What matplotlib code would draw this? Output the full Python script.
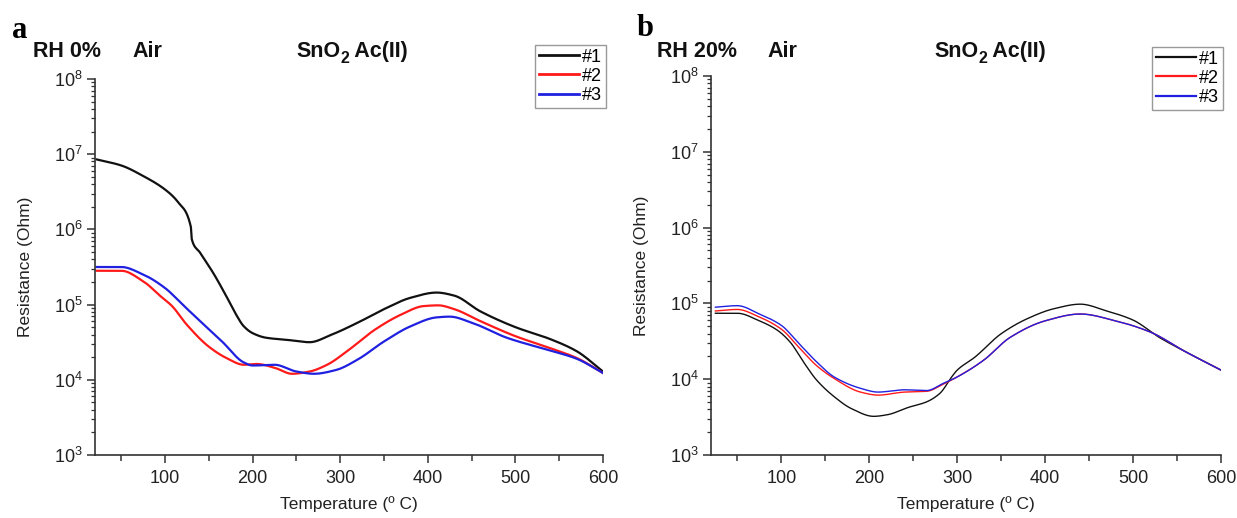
import numpy as np
import matplotlib
matplotlib.use("Agg")
import matplotlib.pyplot as plt
from matplotlib.ticker import LogLocator, MultipleLocator, NullFormatter

plt.rcParams['font.family'] = ['Liberation Sans', 'DejaVu Sans']
plt.rcParams['mathtext.fontset'] = 'custom'
plt.rcParams['mathtext.rm'] = 'Liberation Sans'
plt.rcParams['mathtext.it'] = 'Liberation Sans:italic'
plt.rcParams['mathtext.bf'] = 'Liberation Sans:bold'

# ---- Panel a (RH 0%) : temperature, log10(resistance)
a1_T = [22, 50, 75, 100, 115, 129.5, 130.5, 140, 155, 170, 180, 190, 200, 215, 240, 265, 290, 320, 350, 380, 410, 430, 460, 500, 540, 570, 600]
a1_logR = [6.93, 6.85, 6.71, 6.53, 6.36, 6.03, 5.87, 5.69, 5.42, 5.11, 4.89, 4.71, 4.62, 4.56, 4.53, 4.50, 4.60, 4.76, 4.94, 5.09, 5.16, 5.12, 4.91, 4.70, 4.54, 4.38, 4.11]
a2_T = [22, 50, 75, 95, 108, 125, 150, 170, 190, 205, 225, 245, 265, 285, 310, 340, 370, 395, 412, 430, 460, 500, 540, 570, 600]
a2_logR = [5.45, 5.45, 5.31, 5.11, 4.98, 4.73, 4.44, 4.29, 4.20, 4.21, 4.16, 4.08, 4.11, 4.20, 4.40, 4.67, 4.87, 4.98, 4.99, 4.94, 4.78, 4.58, 4.42, 4.29, 4.09]
a3_T = [22, 50, 75, 100, 120, 140, 165, 190, 200, 225, 250, 270, 295, 320, 350, 380, 410, 425, 450, 490, 530, 570, 600]
a3_logR = [5.50, 5.50, 5.40, 5.22, 5.00, 4.78, 4.51, 4.23, 4.19, 4.20, 4.11, 4.08, 4.13, 4.27, 4.51, 4.71, 4.83, 4.84, 4.76, 4.56, 4.42, 4.28, 4.09]

# ---- Panel b (RH 20%)
b1_T = [25, 50, 75, 95, 110, 125, 140, 160, 180, 205, 220, 245, 265, 280, 295, 300, 320, 350, 380, 410, 440, 470, 500, 530, 560, 600]
b1_logR = [4.87, 4.87, 4.77, 4.65, 4.49, 4.23, 3.99, 3.77, 3.61, 3.51, 3.53, 3.63, 3.70, 3.81, 4.05, 4.12, 4.29, 4.60, 4.80, 4.93, 4.99, 4.90, 4.78, 4.55, 4.36, 4.12]
b2_T = [25, 50, 75, 100, 120, 140, 160, 190, 210, 240, 265, 285, 300, 330, 360, 400, 440, 480, 520, 560, 600]
b2_logR = [4.90, 4.92, 4.82, 4.66, 4.42, 4.18, 4.01, 3.83, 3.79, 3.83, 3.84, 3.94, 4.03, 4.25, 4.55, 4.77, 4.86, 4.77, 4.62, 4.36, 4.12]
b3_T = [25, 50, 75, 100, 120, 140, 160, 190, 210, 240, 265, 285, 300, 330, 360, 400, 440, 480, 520, 560, 600]
b3_logR = [4.95, 4.97, 4.86, 4.71, 4.47, 4.23, 4.03, 3.88, 3.83, 3.86, 3.85, 3.95, 4.03, 4.25, 4.55, 4.77, 4.86, 4.77, 4.62, 4.36, 4.12]

labels = ['#1', '#2', '#3']
colors = ['#111111', '#ff1a1a', '#2020e0']


def pchip(x, y, xn):
    x = np.asarray(x, float); y = np.asarray(y, float)
    h = np.diff(x); d = np.diff(y) / h
    n = len(x)
    m = np.zeros(n)
    for k in range(1, n - 1):
        if d[k - 1] * d[k] > 0:
            w1 = 2 * h[k] + h[k - 1]; w2 = h[k] + 2 * h[k - 1]
            m[k] = (w1 + w2) / (w1 / d[k - 1] + w2 / d[k])
    m[0] = d[0]; m[-1] = d[-1]
    idx = np.clip(np.searchsorted(x, xn) - 1, 0, n - 2)
    t = (xn - x[idx]) / h[idx]
    h00 = 2 * t**3 - 3 * t**2 + 1; h10 = t**3 - 2 * t**2 + t
    h01 = -2 * t**3 + 3 * t**2; h11 = t**3 - t**2
    return h00 * y[idx] + h10 * h[idx] * m[idx] + h01 * y[idx + 1] + h11 * h[idx] * m[idx + 1]


def curve(T, L):
    tt = np.linspace(T[0], T[-1], 1200)
    return tt, 10 ** pchip(T, L, tt)


W, H = 1237, 518
fig = plt.figure(figsize=(W / 100, H / 100), dpi=100)
ax_a = fig.add_axes([95 / W, 1 - 455 / H, (603 - 95) / W, (455 - 79) / H])
ax_b = fig.add_axes([711 / W, 1 - 455 / H, (1221 - 711) / W, (455 - 76) / H])

panels = [
    (ax_a, [(a1_T, a1_logR), (a2_T, a2_logR), (a3_T, a3_logR)], 1.6, (606, 45)),
    (ax_b, [(b1_T, b1_logR), (b2_T, b2_logR), (b3_T, b3_logR)], 1.0, (1223, 47)),
]

for ax, series, lw, legpos in panels:
    for (T, L), c, lab in zip(series, colors, labels):
        x, y = curve(T, L)
        ax.plot(x, y, color=c, lw=lw, label=lab)
    ax.set_yscale('log')
    ax.set_xlim(20, 600)
    ax.set_ylim(1e3, 1e8)
    ax.spines['top'].set_visible(False)
    ax.spines['right'].set_visible(False)
    ax.xaxis.set_major_locator(MultipleLocator(100))
    ax.xaxis.set_minor_locator(MultipleLocator(50))
    ax.yaxis.set_major_locator(LogLocator(base=10, numticks=10))
    ax.yaxis.set_minor_locator(LogLocator(base=10, subs=np.arange(2, 10), numticks=20))
    ax.yaxis.set_minor_formatter(NullFormatter())
    ax.tick_params(axis='both', which='major', labelsize=13, length=6, width=1.1,
                   direction='out', color='#333333', labelcolor='#222222')
    ax.tick_params(axis='x', which='minor', length=4, width=1.1, color='#333333')
    ax.tick_params(axis='y', which='minor', length=3, width=0.9, color='#333333')
    ax.tick_params(axis='x', which='major', pad=5)
    ax.tick_params(axis='y', which='major', pad=3)
    ax.set_xlabel('Temperature (º C)', fontsize=12.5, labelpad=6, color='#222222')
    ax.set_ylabel('Resistance (Ohm)', fontsize=12.5, labelpad=15, color='#222222')
    for s in ['left', 'bottom']:
        ax.spines[s].set_linewidth(1.2)
        ax.spines[s].set_color('#333333')
    leg = ax.legend(loc='upper right', bbox_to_anchor=(legpos[0] / W, 1 - legpos[1] / H),
                    bbox_transform=fig.transFigure, fontsize=13,
                    frameon=True, fancybox=False, handlelength=2.2, handletextpad=0.2,
                    borderpad=0.2, labelspacing=0.12, borderaxespad=0, framealpha=1)
    leg.get_frame().set_edgecolor('#999999')
    leg.get_frame().set_linewidth(1.0)
    for lh in leg.get_lines():
        lh.set_linewidth(2.0 if lw > 1.2 else 1.6)

# header texts
fig.text(12 / W, 1 - 30 / H, 'a', fontsize=22, fontweight='bold', family='Liberation Serif', va='center')
fig.text(637 / W, 1 - 28 / H, 'b', fontsize=22, fontweight='bold', family='Liberation Serif', va='center')

base_y = 1 - 57 / H
hdr = dict(fontsize=15.5, fontweight='bold', va='baseline', color='#111111')
fig.text(33 / W, base_y, 'RH 0%', **hdr)
fig.text(132 / W, base_y, 'Air', **hdr)
fig.text(657 / W, base_y, 'RH 20%', **hdr)
fig.text(767 / W, base_y, 'Air', **hdr)

renderer = fig.canvas.get_renderer()
for x0 in (296, 934):
    t1 = fig.text(x0 / W, base_y, 'SnO', **hdr)
    bb = t1.get_window_extent(renderer)
    t2 = fig.text(bb.x1 / W, base_y - 6 / H, '2', fontsize=11.5, fontweight='bold',
                  va='baseline', color='#111111')
    bb2 = t2.get_window_extent(renderer)
    fig.text(bb2.x1 / W, base_y, ' Ac(II)', **hdr)

fig.savefig('out.png', dpi=100)
